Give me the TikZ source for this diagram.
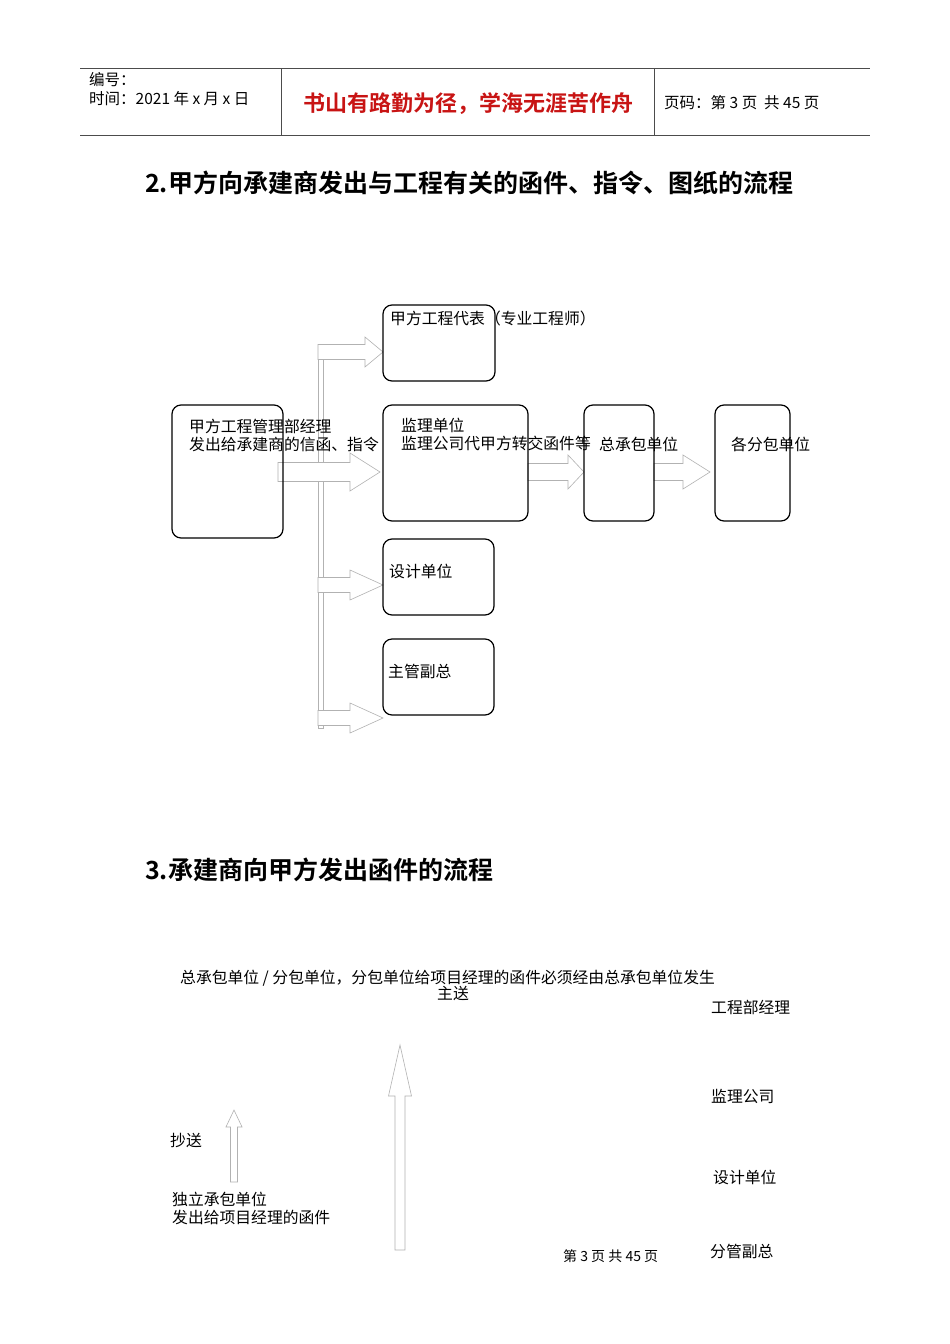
\documentclass[tikz,border=0pt]{standalone}
\usepackage{fontspec}
\setmainfont{Liberation Serif}
\newfontfamily\cjk{Noto Sans CJK SC}
\newfontfamily\cjkb{Noto Sans CJK SC Bold}
\newcommand\harrow[5]{% x1,x2,y,headstart, halfshaft
 \draw[blockar] (#1,#3-#5) -- (#4,#3-#5) -- (#4,#3-2*#5) -- (#2,#3) -- (#4,#3+2*#5) -- (#4,#3+#5) -- (#1,#3+#5) -- cycle;}
\newcommand\varrow[5]{% x,y1(bottom),y2(top),headstart,halfshaft
 \draw[blockar] (#1-#5,#2) -- (#1-#5,#4) -- (#1-2.3*#5,#4) -- (#1,#3) -- (#1+2.3*#5,#4) -- (#1+#5,#4) -- (#1+#5,#2) -- cycle;}
\begin{document}
\begin{tikzpicture}[x=1pt,y=-1pt,
 box/.style={draw=black,line width=1.2pt,rounded corners=9pt},
 lbl/.style={font=\cjk\fontsize{15.8}{18}\selectfont,anchor=west,inner sep=0pt,align=left},
 blockar/.style={draw=black!30,line width=0.6pt,fill=white},
 hdr/.style={font=\cjk\fontsize{15.5}{18}\selectfont,anchor=west,inner sep=0pt,align=left},
 ttl/.style={font=\cjkb\fontsize{25}{29}\selectfont,anchor=west,inner sep=0pt}]
\useasboundingbox[fill=white] (0,0) rectangle (950,1344);
% header
\draw[black!70,line width=0.6pt] (80,68) -- (870,68) (80,135) -- (870,135) (281,68) -- (281,135) (654,68) -- (654,135);
\node[hdr] (h1) at (89,80) {编号：};
\node[hdr] (h2) at (89,99) {时间：2021 年 x 月 x 日};
\node[font=\cjkb\fontsize{22}{26}\selectfont,text={rgb,255:red,200;green,20;blue,20},inner sep=0pt] (h3) at (468,104) {书山有路勤为径，学海无涯苦作舟};
\node[hdr] (h4) at (664,103) {页码：第 3 页\ \ 共 45 页};
\node[ttl] (t2) at (145,183) {2.甲方向承建商发出与工程有关的函件、指令、图纸的流程};
\node[ttl] (t3) at (145,870) {3.承建商向甲方发出函件的流程};
% vertical bar
\draw[blockar] (318,345) rectangle (323,728);
% arrows
\harrow{318}{383}{352}{365}{7.5}
\harrow{278}{380}{472}{350}{9.5}
\harrow{528}{584}{472}{568}{8.5}
\harrow{654}{710}{472}{683}{8.5}
\harrow{318}{383}{585}{350}{7.5}
\harrow{318}{383}{718}{350}{7.5}
% boxes
\draw[box] (383,305) rectangle (495,381);
\draw[box] (172,405) rectangle (283,538);
\draw[box] (383,405) rectangle (528,521);
\draw[box] (584,405) rectangle (654,521);
\draw[box] (715,405) rectangle (790,521);
\draw[box] (383,539) rectangle (494,615);
\draw[box] (383,639) rectangle (494,715);
\node[lbl] (a) at (390,318) {甲方工程代表（专业工程师）};
\node[lbl] (b) at (189,435) {甲方工程管理部经理\\发出给承建商的信函、指令};
\node[lbl] (c) at (401,434) {监理单位\\监理公司代甲方转交函件等};
\node[lbl] (d) at (599,444) {总承包单位};
\node[lbl] (e) at (731,444) {各分包单位};
\node[lbl] (f) at (389,571) {设计单位};
\node[lbl] (g) at (388,671) {主管副总};
% part 3
\node[lbl] (p1) at (180,978) {总承包单位 / 分包单位，分包单位给项目经理的函件必须经由总承包单位发生};
\node[lbl] (p2) at (437,993) {主送};
\node[lbl] (p3) at (711,1007) {工程部经理};
\node[lbl] (p4) at (711,1096) {监理公司};
\node[lbl] (p5) at (713,1177) {设计单位};
\node[lbl] (p6) at (710,1251) {分管副总};
\node[lbl] (p7) at (170,1140) {抄送};
\node[lbl] (p8) at (172,1208) {独立承包单位\\发出给项目经理的函件};
\node[font=\cjk\fontsize{14}{16}\selectfont,anchor=west,inner sep=0pt] (p9) at (563,1256) {第\ 3\ 页\ 共\ 45\ 页};
\varrow{400}{1250}{1045}{1096}{5}
\varrow{234}{1182}{1110}{1127}{3.5}
\end{tikzpicture}
\end{document}
